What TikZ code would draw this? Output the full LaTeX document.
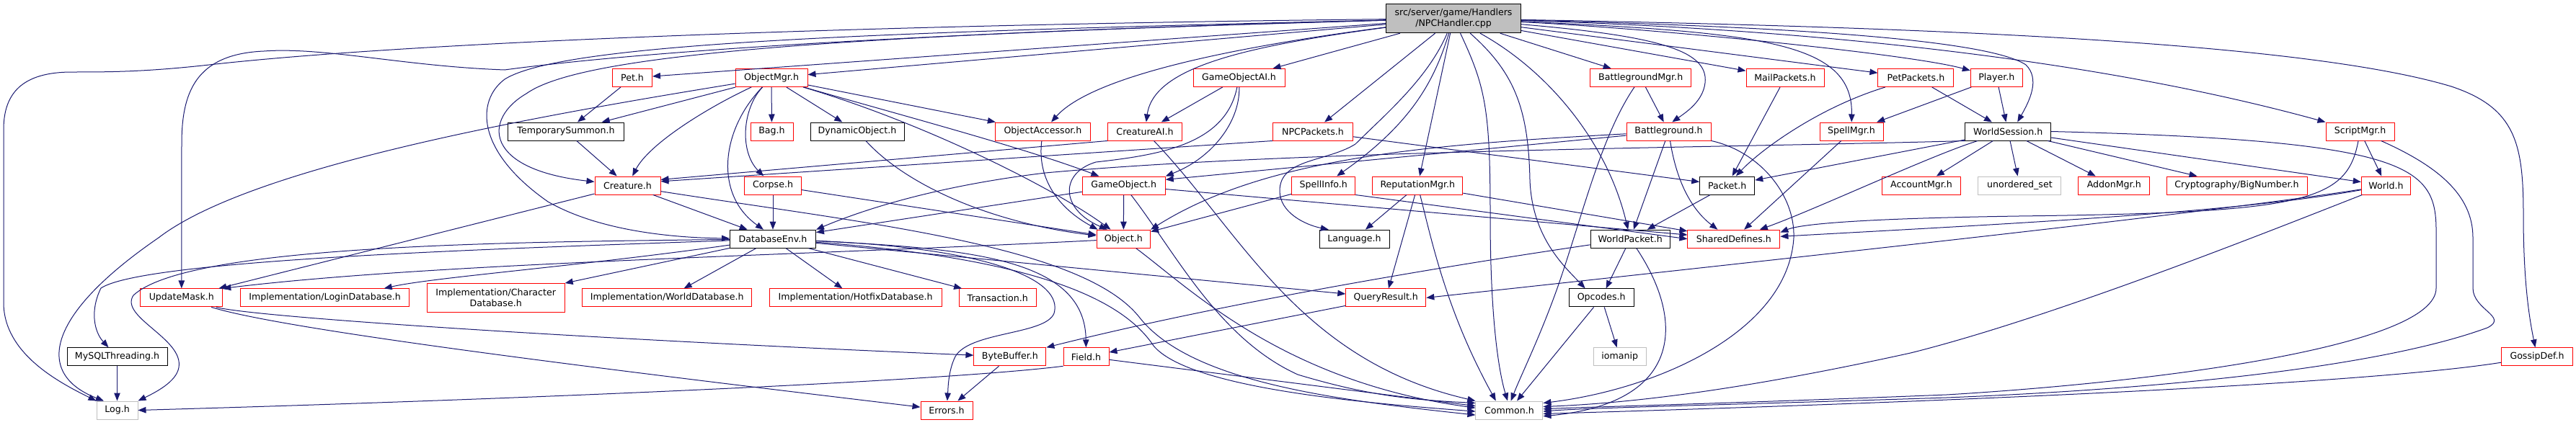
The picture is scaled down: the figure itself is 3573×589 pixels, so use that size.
\documentclass[tikz,border=0pt]{standalone}
\usepackage{fontspec}
\setmainfont{DejaVu Sans}
\usetikzlibrary{arrows.meta}
\definecolor{edgecol}{HTML}{191970}
\definecolor{graybox}{HTML}{BFBFBF}
\definecolor{redbox}{HTML}{FF0000}
\begin{document}
\begin{tikzpicture}[x=1pt,y=-1pt,
  box/.style={draw=redbox,line width=1pt,inner sep=0pt,minimum height=25pt,align=center,font=\fontsize{12.6}{15}\selectfont},
  blk/.style={box,draw=black},
  gry/.style={box,draw=graybox},
  rootbox/.style={box,draw=black,fill=graybox,minimum height=40pt},
  e/.style={draw=edgecol,line width=1pt,-{Triangle[length=11pt,width=8.5pt]}}]
\useasboundingbox (0,0) rectangle (3573,589);
% ---------- nodes ----------
\node[rootbox,minimum width=187pt] (root) at (2016,25.7) {src/server/game/Handlers\\/NPCHandler.cpp};
% row 2
\node[box,minimum width=55pt] (Pet) at (877,108) {Pet.h};
\node[box,minimum width=100pt] (ObjMgr) at (1070,108) {ObjectMgr.h};
\node[box,minimum width=127pt] (GOAI) at (1718.5,108) {GameObjectAI.h};
\node[box,minimum width=140pt] (BGMgr) at (2275.7,108) {BattlegroundMgr.h};
\node[box,minimum width=108pt] (MailP) at (2476,108) {MailPackets.h};
\node[box,minimum width=105pt] (PetP) at (2657.4,108) {PetPackets.h};
\node[box,minimum width=72pt] (Player) at (2769.3,108) {Player.h};
% row 3
\node[blk,minimum width=161pt] (TempSum) at (785,182.5) {TemporarySummon.h};
\node[box,minimum width=59pt] (Bag) at (1070.5,182.5) {Bag.h};
\node[blk,minimum width=130pt] (DynObj) at (1189,182.5) {DynamicObject.h};
\node[box,minimum width=132pt] (ObjAcc) at (1446.5,182.5) {ObjectAccessor.h};
\node[box,minimum width=103pt] (CreAI) at (1588,182.5) {CreatureAI.h};
\node[box,minimum width=111pt] (NPCP) at (1821,182.5) {NPCPackets.h};
\node[box,minimum width=117pt] (BG) at (2314.5,182.5) {Battleground.h};
\node[box,minimum width=88pt] (SpellMgr) at (2568,182.5) {SpellMgr.h};
\node[blk,minimum width=119pt] (WSess) at (2785.2,182.5) {WorldSession.h};
\node[box,minimum width=95pt] (ScriptMgr) at (3273.5,182.5) {ScriptMgr.h};
% row 4
\node[box,minimum width=91pt] (Creature) at (870.5,257.5) {Creature.h};
\node[box,minimum width=79pt] (Corpse) at (1072,257.5) {Corpse.h};
\node[box,minimum width=115pt] (GO) at (1558.7,257.5) {GameObject.h};
\node[box,minimum width=88pt] (SpellInfo) at (1835.7,257.5) {SpellInfo.h};
\node[box,minimum width=125pt] (RepMgr) at (1966.3,257.5) {ReputationMgr.h};
\node[blk,minimum width=76pt] (Packet) at (2395.7,257.5) {Packet.h};
\node[box,minimum width=109pt] (AccMgr) at (2665,257.5) {AccountMgr.h};
\node[gry,minimum width=115pt] (UnSet) at (2801.4,257.5) {unordered\_set};
\node[box,minimum width=99pt] (AddonMgr) at (2932.2,257.5) {AddonMgr.h};
\node[box,minimum width=195pt] (BigNum) at (3102.5,257.5) {Cryptography/BigNumber.h};
\node[box,minimum width=68.5pt] (World) at (3309.5,257.5) {World.h};
% row 5
\node[blk,minimum width=119pt] (DBEnv) at (1072,331.7) {DatabaseEnv.h};
\node[box,minimum width=74.5pt] (Object) at (1558.3,331.7) {Object.h};
\node[blk,minimum width=97pt] (Language) at (1878.5,331.7) {Language.h};
\node[blk,minimum width=110pt] (WPacket) at (2261.2,331.7) {WorldPacket.h};
\node[box,minimum width=128pt] (SharedDef) at (2404.9,331.7) {SharedDefines.h};
% row 6
\node[box,minimum width=114pt] (UpdMask) at (251.8,413.4) {UpdateMask.h};
\node[box,minimum width=234pt] (LoginDB) at (450.6,413.4) {Implementation/LoginDatabase.h};
\node[box,minimum width=191pt,minimum height=40pt] (CharDB) at (687.7,413.4) {Implementation/Character\\Database.h};
\node[box,minimum width=235pt] (WorldDB) at (925.2,413.4) {Implementation/WorldDatabase.h};
\node[box,minimum width=239pt] (HotfixDB) at (1186.6,413.4) {Implementation/HotfixDatabase.h};
\node[box,minimum width=107pt] (Transaction) at (1383.7,413.4) {Transaction.h};
\node[box,minimum width=111pt] (QueryRes) at (1922.3,413.4) {QueryResult.h};
\node[blk,minimum width=90pt] (Opcodes) at (2221.2,413.4) {Opcodes.h};
% row 7
\node[blk,minimum width=139pt] (MySQLT) at (162.5,495.3) {MySQLThreading.h};
\node[box,minimum width=100pt] (ByteBuf) at (1400.9,495.3) {ByteBuffer.h};
\node[box,minimum width=63pt] (Field) at (1506.5,495.3) {Field.h};
\node[gry,minimum width=73pt] (iomanip) at (2246.7,495.3) {iomanip};
\node[box,minimum width=99pt] (Gossip) at (3519,495.3) {GossipDef.h};
% row 8
\node[gry,minimum width=57pt] (Log) at (162.5,569.5) {Log.h};
\node[box,minimum width=72pt] (Errors) at (1313,569.5) {Errors.h};
\node[gry,minimum width=93pt] (Common) at (2093.4,569.5) {Common.h};
% ---------- edges from root ----------
\draw[e] (root) .. controls (1300,33) and (600,55) .. (290,90) .. controls (200,100) and (150,100) .. (100,100) .. controls (30,100) and (5,130) .. (5,180) -- (5,420) .. controls (5,490) and (80,530) .. (Log.north west);
\draw[e] (root) .. controls (1300,45) and (900,70) .. (700,97) .. controls (560,92) and (450,65) .. (366,71) .. controls (270,75) and (252,130) .. (252,200) -- (UpdMask);
\draw[e] (root) .. controls (1200,45) and (780,60) .. (700,110) .. controls (660,140) and (660,210) .. (760,280) .. controls (830,320) and (930,330) .. (DBEnv);
\draw[e] (root) .. controls (1100,50) and (800,80) .. (730,130) .. controls (670,165) and (670,235) .. (Creature);
\draw[e] (root) -- (Pet);
\draw[e] (root) -- (ObjMgr);
\draw[e] (root) .. controls (1750,60) and (1520,100) .. (ObjAcc);
\draw[e] (root) .. controls (1720,65) and (1600,95) .. (CreAI);
\draw[e] (root) -- (GOAI);
\draw[e] (root) -- (NPCP);
\draw[e] (root) .. controls (1990,110) and (1960,170) .. (SpellInfo);
\draw[e] (root) -- (RepMgr);
\draw[e] (root) .. controls (1980,110) and (1920,160) .. (1880,200) .. controls (1840,225) and (1775,220) .. (1775,265) .. controls (1775,295) and (1810,312) .. (Language.160);
\draw[e] (root) .. controls (2060,120) and (2067,150) .. (2067,300) .. controls (2067,450) and (2080,520) .. (Common.100);
\draw[e] (root) .. controls (2100,100) and (2120,150) .. (2122,250) .. controls (2125,330) and (2170,370) .. (Opcodes.150);
\draw[e] (root) .. controls (2150,100) and (2230,200) .. (WPacket);
\draw[e] (root) -- (BGMgr);
\draw[e] (root) .. controls (2300,50) and (2370,70) .. (2365,115) .. controls (2362,140) and (2340,155) .. (BG.70);
\draw[e] (root) -- (MailP);
\draw[e] (root) .. controls (2450,45) and (2570,60) .. (SpellMgr);
\draw[e] (root) -- (PetP);
\draw[e] (root) .. controls (2300,40) and (2650,75) .. (Player);
\draw[e] (root) .. controls (2400,35) and (2750,50) .. (2810,90) .. controls (2830,110) and (2815,140) .. (WSess.45);
\draw[e] (root) .. controls (2500,40) and (2900,80) .. (ScriptMgr.north west);
\draw[e] (root) .. controls (2700,38) and (3200,60) .. (3400,120) .. controls (3490,150) and (3500,200) .. (3500,300) .. controls (3500,400) and (3510,450) .. (Gossip);
% ---------- ObjectMgr ----------
\draw[e] (ObjMgr) .. controls (750,160) and (350,230) .. (220,330) .. controls (60,440) and (50,520) .. (Log.145);
\draw[e] (ObjMgr) -- (TempSum);
\draw[e] (ObjMgr) .. controls (980,150) and (900,200) .. (Creature);
\draw[e] (ObjMgr) -- (Bag);
\draw[e] (ObjMgr) -- (DynObj);
\draw[e] (ObjMgr) .. controls (1030,150) and (1025,210) .. (Corpse);
\draw[e] (ObjMgr) .. controls (1000,180) and (990,270) .. (DBEnv.135);
\draw[e] (ObjMgr) -- (ObjAcc);
\draw[e] (ObjMgr) .. controls (1250,160) and (1420,205) .. (GO);
\draw[e] (ObjMgr) .. controls (1280,170) and (1460,260) .. (Object);
% ---------- rows 3/4 ----------
\draw[e] (Pet) -- (TempSum);
\draw[e] (TempSum) -- (Creature);
\draw[e] (DynObj) .. controls (1260,260) and (1380,310) .. (Object);
\draw[e] (Corpse) -- (DBEnv);
\draw[e] (Corpse) -- (Object);
\draw[e] (Creature) -- (UpdMask);
\draw[e] (Creature) -- (DBEnv);
\draw[e] (Creature.-10) .. controls (1200,310) and (1500,340) .. (1580,440) .. controls (1650,530) and (1850,555) .. (Common.188);
\draw[e] (GOAI) -- (CreAI);
\draw[e] (GOAI) .. controls (1720,170) and (1680,220) .. (GO.north east);
\draw[e] (GOAI) .. controls (1700,200) and (1610,215) .. (1520,225) .. controls (1470,240) and (1470,290) .. (Object.150);
\draw[e] (ObjAcc) .. controls (1438,250) and (1470,290) .. (Object.160);
\draw[e] (CreAI.south west) -- (Creature.10);
\draw[e] (CreAI) .. controls (1720,320) and (1800,500) .. (Common.north west);
\draw[e] (NPCP.south west) -- (Creature.7);
\draw[e] (NPCP) -- (Packet);
\draw[e] (GO) -- (Object);
\draw[e] (GO) -- (DBEnv);
\draw[e] (GO) -- (SharedDef);
\draw[e] (GO) .. controls (1630,350) and (1690,470) .. (1800,520) .. controls (1900,550) and (1960,555) .. (Common.168);
\draw[e] (Object) .. controls (1100,355) and (600,365) .. (UpdMask.north east);
\draw[e] (Object) .. controls (1650,400) and (1780,530) .. (Common.176);
\draw[e] (SpellInfo) -- (Object);
\draw[e] (SpellInfo.south east) -- (SharedDef.west);
\draw[e] (RepMgr) -- (Language);
\draw[e] (RepMgr) -- (QueryRes);
\draw[e] (RepMgr) .. controls (1985,330) and (2005,430) .. (Common.145);
\draw[e] (RepMgr) -- (SharedDef);
\draw[e] (BGMgr) -- (BG);
\draw[e] (BGMgr) .. controls (2220,190) and (2195,300) .. (2160,400) .. controls (2135,470) and (2110,520) .. (Common.80);
\draw[e] (BG) -- (WPacket);
\draw[e] (BG) .. controls (2325,250) and (2345,290) .. (SharedDef.150);
\draw[e] (BG) .. controls (2440,210) and (2490,270) .. (2488,330) .. controls (2480,460) and (2300,540) .. (Common.12);
\draw[e] (BG) -- (GO.8);
\draw[e] (BG) .. controls (2000,200) and (1760,215) .. (Object.north east);
% ---------- WorldSession and right part ----------
\draw[e] (WSess.south west) .. controls (2400,205) and (1800,208) .. (1450,240) .. controls (1300,258) and (1200,290) .. (DBEnv.north east);
\draw[e] (WSess) -- (Packet);
\draw[e] (WSess) .. controls (2680,215) and (2520,290) .. (SharedDef);
\draw[e] (WSess) -- (AccMgr);
\draw[e] (WSess) -- (UnSet);
\draw[e] (WSess) -- (AddonMgr);
\draw[e] (WSess) -- (BigNum);
\draw[e] (WSess) -- (World);
\draw[e] (WSess.east) .. controls (3340,195) and (3379,230) .. (3379,320) -- (3379,400) .. controls (3379,480) and (3000,530) .. (2700,548) .. controls (2400,560) and (2200,565) .. (Common.2);
\draw[e] (PetP) .. controls (2520,150) and (2440,210) .. (Packet);
\draw[e] (PetP) -- (WSess);
\draw[e] (MailP) -- (Packet);
\draw[e] (Player) -- (SpellMgr);
\draw[e] (Player) -- (WSess);
\draw[e] (SpellMgr) -- (SharedDef);
\draw[e] (ScriptMgr) -- (World);
\draw[e] (ScriptMgr) .. controls (3255,280) and (3200,295) .. (2800,300) .. controls (2600,303) and (2500,310) .. (SharedDef.8);
\draw[e] (ScriptMgr) .. controls (3380,230) and (3430,270) .. (3430,330) -- (3430,400) .. controls (3430,430) and (3480,440) .. (3450,455) .. controls (3300,510) and (3000,540) .. (2700,552) .. controls (2400,562) and (2200,566) .. (Common.-2);
\draw[e] (World) .. controls (3100,295) and (2800,310) .. (SharedDef.3);
\draw[e] (World) .. controls (3100,290) and (2700,335) .. (QueryRes.east);
\draw[e] (World) .. controls (3150,320) and (2850,440) .. (2650,490) .. controls (2400,545) and (2250,560) .. (Common.6);
\draw[e] (Gossip) .. controls (3300,530) and (2800,555) .. (Common.-6);
\draw[e] (WPacket) -- (Opcodes);
\draw[e] (WPacket) .. controls (2340,450) and (2330,560) .. (Common.-10);
\draw[e] (WPacket) .. controls (2000,370) and (1700,420) .. (ByteBuf.north east);
\draw[e] (Packet) -- (WPacket);
\draw[e] (Opcodes) -- (iomanip);
\draw[e] (Opcodes) -- (Common);
% ---------- lower part ----------
\draw[e] (QueryRes) -- (Field);
\draw[e] (Field.south west) .. controls (1300,530) and (700,555) .. (Log.east);
\draw[e] (Field) -- (Common);
\draw[e] (ByteBuf) -- (Errors);
\draw[e] (UpdMask) .. controls (350,440) and (800,470) .. (ByteBuf);
\draw[e] (UpdMask) .. controls (400,460) and (900,520) .. (Errors);
\draw[e] (MySQLT) -- (Log);
\draw[e] (DBEnv) .. controls (700,336) and (260,340) .. (185,410) .. controls (165,440) and (255,470) .. (248,510) .. controls (245,530) and (215,545) .. (Log.north east);
\draw[e] (DBEnv) .. controls (700,345) and (200,360) .. (140,400) .. controls (125,430) and (130,460) .. (MySQLT);
\draw[e] (DBEnv) .. controls (800,370) and (600,385) .. (LoginDB.9);
\draw[e] (DBEnv) -- (CharDB);
\draw[e] (DBEnv) -- (WorldDB);
\draw[e] (DBEnv) -- (HotfixDB);
\draw[e] (DBEnv) -- (Transaction);
\draw[e] (DBEnv) -- (QueryRes);
\draw[e] (DBEnv) .. controls (1350,345) and (1505,360) .. (Field);
\draw[e] (DBEnv) .. controls (1380,345) and (1475,390) .. (1462,435) .. controls (1450,465) and (1345,460) .. (1325,495) .. controls (1315,515) and (1315,540) .. (Errors);
\draw[e] (DBEnv) .. controls (1450,360) and (1560,420) .. (1600,480) .. controls (1650,540) and (1900,560) .. (Common.182);
\end{tikzpicture}
\end{document}
